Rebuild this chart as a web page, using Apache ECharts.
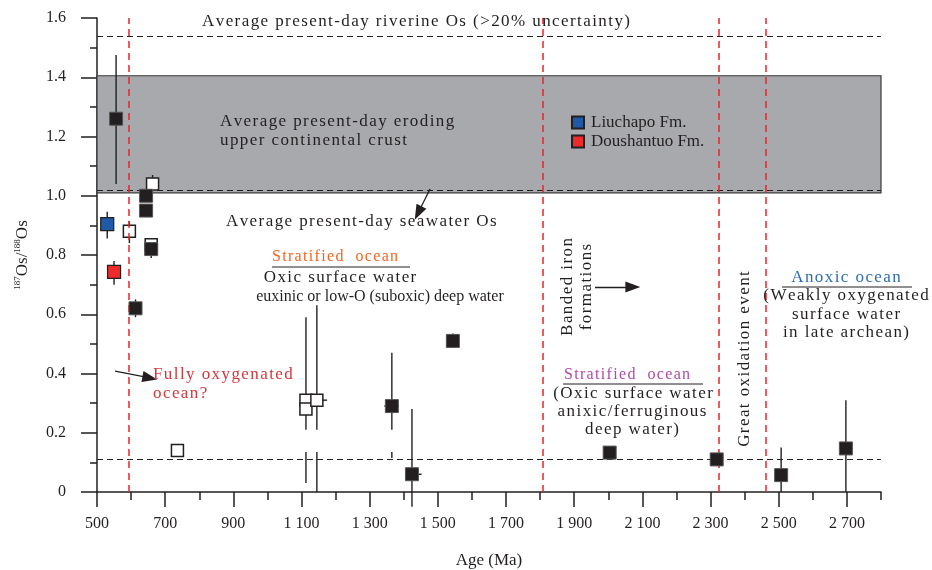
<!DOCTYPE html>
<html>
<head>
<meta charset="utf-8">
<script src="https://cdn.jsdelivr.net/npm/echarts@6/dist/echarts.min.js"></script>
<style>
  html, body { margin: 0; padding: 0; background: #fff; }
  #main { width: 932px; height: 570px; }
</style>
</head>
<body>
<div id="main"></div>
<script>
// ages (Ma) and 187Os/188Os
var filledAge = [556, 644, 644, 659, 613, 1365, 1424, 1544, 2004, 2318, 2507, 2697];
var filledOs = [1.26, 1.00, 0.95, 0.82, 0.62, 0.29, 0.06, 0.51, 0.133, 0.11, 0.057, 0.147];
var openAge = [663, 595, 659, 736, 1113, 1113, 1145];
var openOs = [1.04, 0.88, 0.835, 0.14, 0.31, 0.28, 0.31];
var liuAge = [530];
var liuOs = [0.904];
var douAge = [550];
var douOs = [0.743];

// vertical error bars: age, low, high
var errAge = [556, 663, 595, 659, 613, 530, 550, 1113, 1113, 1145, 1145, 1365, 1365, 1424, 1544, 2507, 2697];
var errLo = [1.04, 1.04, 0.84, 0.79, 0.59, 0.856, 0.70, 0.21, 0.03, 0.21, 0.0, 0.21, 0.115, -0.05, 0.49, 0.0, 0.0];
var errHi = [1.475, 1.07, 0.915, 0.84, 0.65, 0.946, 0.78, 0.59, 0.135, 0.63, 0.135, 0.47, 0.135, 0.28, 0.535, 0.15, 0.31];
// horizontal error bars: value, age low, age high
var hErrOs = [0.31, 0.29, 0.06];
var hErrLo = [1145, 1343, 1406];
var hErrHi = [1175, 1386, 1452];

// reference levels
var riverineOs = 1.54;
var seawaterOs = 1.025;
var crustBand = [1.01, 1.405];
var lowerDash = 0.11;
var eventAges = [594, 1809, 2323, 2461];

// axis ticks
var xMajorTicks = [500, 700, 900, 1100, 1300, 1500, 1700, 1900, 2100, 2300, 2500, 2700];
var xMinorTicks = [600, 800, 1000, 1200, 1400, 1600, 1800, 2000, 2200, 2400, 2600, 2800];

var FONT = '"Liberation Serif", "DejaVu Serif", serif';
var INK = '#231f20';

function pairs(xs, ys) {
  var out = [];
  for (var i = 0; i < xs.length; i++) out.push([xs[i], ys[i]]);
  return out;
}

var errData = [];
for (var i = 0; i < errAge.length; i++) errData.push([errAge[i], errLo[i], errHi[i]]);
var hErrData = [];
for (var j = 0; j < hErrOs.length; j++) hErrData.push([hErrLo[j], hErrHi[j], hErrOs[j]]);

function fmtAge(v) {
  if (v >= 1000) return Math.floor(v / 1000) + ' ' + String(v % 1000).padStart(3, '0');
  return String(v);
}
// the original lettering is widely tracked
function track(s) {
  return s.split('\n').map(function (l) { return l.split('').join('\u200A'); }).join('\n');
}

var myChart = echarts.init(document.getElementById('main'));

var dash = { color: INK, type: [6, 4], width: 1.2 };
var redDash = { color: '#e8262b', type: [7, 5], width: 1.5 };

function txt(s, x, y, opt) {
  opt = opt || {};
  return {
    type: 'text', x: x, y: y, rotation: opt.rot || 0, z: 100,
    style: {
      text: opt.plain ? s : track(s), fontFamily: FONT, fontSize: opt.size || 17,
      fill: opt.color || INK, align: opt.align || 'center',
      verticalAlign: 'middle', lineHeight: 19
    }
  };
}
function uline(x1, x2, y) {
  return { type: 'line', z: 100, shape: { x1: x1, y1: y, x2: x2, y2: y }, style: { stroke: INK, lineWidth: 1 } };
}

var chartopt = {
  animation: false,
  grid: { left: 97, right: 51, top: 18, bottom: 78, outerBoundsMode: 'none', containLabel: false },
  legend: {
    data: ['Liuchapo Fm.', 'Doushantuo Fm.'],
    orient: 'vertical',
    left: 566, top: 109,
    itemWidth: 12, itemHeight: 12, itemGap: 2,
    icon: 'rect',
    textStyle: { fontFamily: FONT, fontSize: 17, color: INK, padding: [0, 0, 0, 2] }
  },
  xAxis: [
    {
      type: 'value', min: 500, max: 2800, position: 'bottom',
      name: 'Age (Ma)', nameLocation: 'middle', nameGap: 60,
      nameTextStyle: { fontFamily: FONT, fontSize: 17, color: INK },
      axisLine: { lineStyle: { color: INK, width: 1.5 } },
      axisTick: { length: 15, lineStyle: { color: INK, width: 1.5 }, customValues: xMajorTicks },
      axisLabel: { margin: 24, fontFamily: FONT, fontSize: 16, color: INK, customValues: xMajorTicks, formatter: fmtAge },
      splitLine: { show: false }
    },
    {
      type: 'value', min: 500, max: 2800, position: 'bottom',
      axisLine: { show: false },
      axisTick: { length: 8, lineStyle: { color: INK, width: 1.5 }, customValues: xMinorTicks },
      axisLabel: { show: false },
      splitLine: { show: false }
    }
  ],
  yAxis: {
    type: 'value', min: 0, max: 1.6, interval: 0.2,
    name: '{n|}{sup|187}{n|Os/}{sup|188}{n|Os}', nameLocation: 'middle', nameGap: 64,
    nameTextStyle: {
      fontFamily: FONT, color: INK,
      rich: {
        n: { fontFamily: FONT, fontSize: 17, color: INK, lineHeight: 20 },
        sup: { fontFamily: FONT, fontSize: 9, color: INK, verticalAlign: 'top', lineHeight: 20 }
      }
    },
    axisLine: { show: true, lineStyle: { color: INK, width: 1.5 } },
    axisTick: { show: true, length: 16, lineStyle: { color: INK, width: 1.5 } },
    minorTick: { show: true, splitNumber: 2, length: 7, lineStyle: { color: INK, width: 1.5 } },
    axisLabel: { margin: 31, fontFamily: FONT, fontSize: 16, color: INK,
      formatter: function (v) { return v === 0 ? '0' : v.toFixed(1); } },
    splitLine: { show: false }
  },
  series: [
    {
      name: 'ref', type: 'line', data: [], z: 1,
      markArea: {
        silent: true,
        itemStyle: { color: '#a8a9ad', borderColor: '#3a3a3a', borderWidth: 1.2 },
        data: [[{ yAxis: crustBand[0] }, { yAxis: crustBand[1] }]]
      },
      markLine: {
        silent: true, symbol: 'none', label: { show: false },
        data: [
          { yAxis: riverineOs, lineStyle: dash },
          { yAxis: seawaterOs, lineStyle: dash },
          { yAxis: lowerDash, lineStyle: dash }
        ].concat(eventAges.map(function (a) { return { xAxis: a, lineStyle: redDash }; }))
      }
    },
    {
      name: 'arrows', type: 'line', data: [], z: 6,
      markLine: {
        silent: true, symbol: ['none', 'triangle'], symbolSize: [11, 15], label: { show: false },
        lineStyle: { color: INK, type: 'solid', width: 1.3 },
        data: [
          [{ coord: [1477, 1.023] }, { coord: [1442, 0.942] }],
          [{ coord: [553, 0.408] }, { coord: [655, 0.385] }],
          [{ coord: [1961, 0.692] }, { coord: [2072, 0.692] }]
        ]
      }
    },
    {
      name: 'errV', type: 'custom', clip: false, z: 3,
      data: errData,
      renderItem: function (params, api) {
        var a = api.coord([api.value(0), api.value(1)]);
        var b = api.coord([api.value(0), api.value(2)]);
        return { type: 'line', shape: { x1: a[0], y1: a[1], x2: b[0], y2: b[1] },
          style: { stroke: INK, lineWidth: 1.4 } };
      }
    },
    {
      name: 'errH', type: 'custom', clip: false, z: 3,
      data: hErrData,
      renderItem: function (params, api) {
        var a = api.coord([api.value(0), api.value(2)]);
        var b = api.coord([api.value(1), api.value(2)]);
        return { type: 'line', shape: { x1: a[0], y1: a[1], x2: b[0], y2: b[1] },
          style: { stroke: INK, lineWidth: 1.4 } };
      }
    },
    {
      name: 'open', type: 'scatter', symbol: 'rect', symbolSize: 12, z: 4,
      itemStyle: { color: '#fff', borderColor: INK, borderWidth: 1.5, opacity: 1 },
      data: pairs(openAge, openOs)
    },
    {
      name: 'filled', type: 'scatter', symbol: 'rect', symbolSize: 13, z: 5,
      itemStyle: { color: INK, borderColor: '#555', borderWidth: 1, opacity: 1 },
      data: pairs(filledAge, filledOs)
    },
    {
      name: 'Liuchapo Fm.', type: 'scatter', symbol: 'rect', symbolSize: 13, z: 5,
      itemStyle: { color: '#1f5aa8', borderColor: INK, borderWidth: 1.2, opacity: 1 },
      data: pairs(liuAge, liuOs)
    },
    {
      name: 'Doushantuo Fm.', type: 'scatter', symbol: 'rect', symbolSize: 13, z: 5,
      itemStyle: { color: '#ee2a2a', borderColor: INK, borderWidth: 1.2, opacity: 1 },
      data: pairs(douAge, douOs)
    }
  ],
  graphic: [
    txt('Average present-day riverine Os (>20% uncertainty)', 416, 22),
    txt('Average present-day eroding', 220, 122, { align: 'left' }),
    txt('upper continental crust', 220, 141, { align: 'left' }),
    txt('Average present-day seawater Os', 226, 222, { align: 'left' }),
    txt('Stratified  ocean', 335, 257, { color: '#f26522', size: 16 }),
    uline(272, 410, 267),
    txt('Oxic surface water', 340, 278),
    txt('euxinic or low-O (suboxic) deep water', 380, 297, { plain: true, size: 16 }),
    txt('Fully oxygenated', 153, 375, { align: 'left', color: '#d2373c' }),
    txt('ocean?', 153, 394, { align: 'left', color: '#d2373c' }),
    txt('Banded iron\nformations', 577, 287, { rot: Math.PI / 2 }),
    txt('Great oxidation event', 745, 359, { rot: Math.PI / 2 }),
    txt('Anoxic ocean', 846, 278, { color: '#2e6db4' }),
    uline(782, 912, 287),
    txt('(Weakly oxygenated', 846, 296),
    txt('surface water', 846, 315),
    txt('in late archean)', 846, 333),
    txt('Stratified  ocean', 627, 375, { color: '#b04aa8', size: 16 }),
    uline(563, 703, 384),
    txt('(Oxic surface water', 633, 394),
    txt('anixic/ferruginous', 632, 412),
    txt('deep water)', 632, 430)
  ]
};

myChart.setOption(chartopt);
</script>
</body>
</html>
